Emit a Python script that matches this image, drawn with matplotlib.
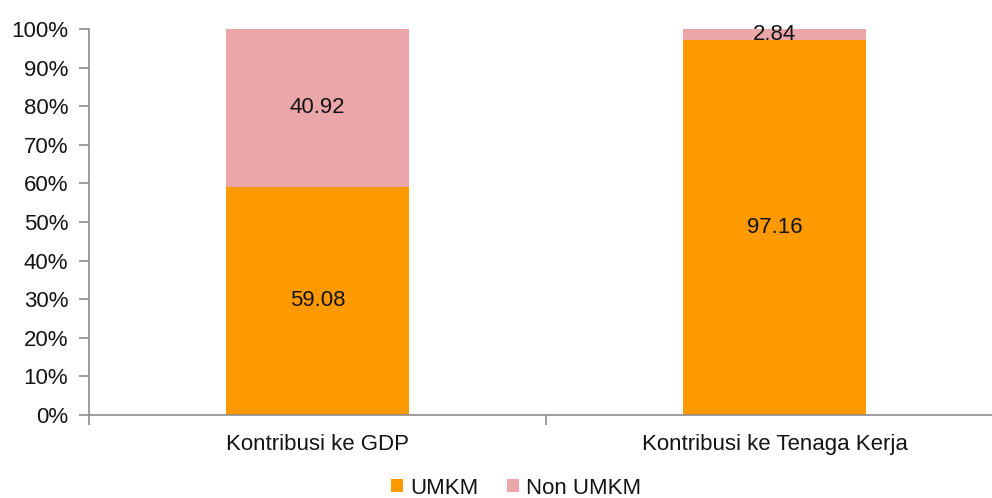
import matplotlib
matplotlib.use("Agg")
import matplotlib.pyplot as plt
from matplotlib.ticker import FixedLocator, PercentFormatter

categories = ["Kontribusi ke GDP", "Kontribusi ke Tenaga Kerja"]
umkm = [59.08, 97.16]
non_umkm = [40.92, 2.84]
series_names = ["UMKM", "Non UMKM"]
yticks = list(range(0, 101, 10))

plt.rcParams['font.family'] = ['Liberation Sans', 'DejaVu Sans']
txt = '#141414'
axc = '#8c8c8c'
fs = 16

fig = plt.figure(figsize=(9.92, 4.98), dpi=100)
ax = fig.add_axes([89/992, 1-415/498, (1003-89)/992, (415-29)/498])

x = list(range(len(categories)))
b1 = ax.bar(x, umkm, width=0.40, color='#FF9900', label=series_names[0])
b2 = ax.bar(x, non_umkm, width=0.40, bottom=umkm, color='#EBA6AA', label=series_names[1])

for xi, u, n in zip(x, umkm, non_umkm):
    ax.text(xi, u/2, f"{u:.2f}", ha='center', va='center', fontsize=fs, color=txt)
    ax.text(xi, u + n/2, f"{n:.2f}", ha='center', va='center', fontsize=fs, color=txt)

ax.set_xlim(-0.5, 1.5)
ax.set_ylim(0, 100)
ax.yaxis.set_major_locator(FixedLocator(yticks))
ax.yaxis.set_major_formatter(PercentFormatter(decimals=0))
ax.set_xticks(x)
ax.set_xticklabels(categories)
ax.xaxis.set_minor_locator(FixedLocator([-0.5, 0.5, 1.5]))
ax.tick_params(axis='x', which='major', length=0, pad=14, labelsize=fs, labelcolor=txt)
ax.tick_params(axis='x', which='minor', length=7, color=axc, width=1.2)
ax.tick_params(axis='y', which='major', length=7, color=axc, width=1.2, pad=8,
               labelsize=fs, labelcolor=txt)

for s in ['top', 'right']:
    ax.spines[s].set_visible(False)
for s in ['left', 'bottom']:
    ax.spines[s].set_color(axc)
    ax.spines[s].set_linewidth(1.2)

fig.legend(handles=[b1, b2], labels=series_names, loc='center',
           bbox_to_anchor=(516/992, 1-488/498), ncol=2, frameon=False,
           fontsize=fs, handlelength=0.55, handleheight=0.55, handletextpad=0.3,
           columnspacing=1.3, labelcolor=txt)

fig.savefig("out.png", dpi=100)
